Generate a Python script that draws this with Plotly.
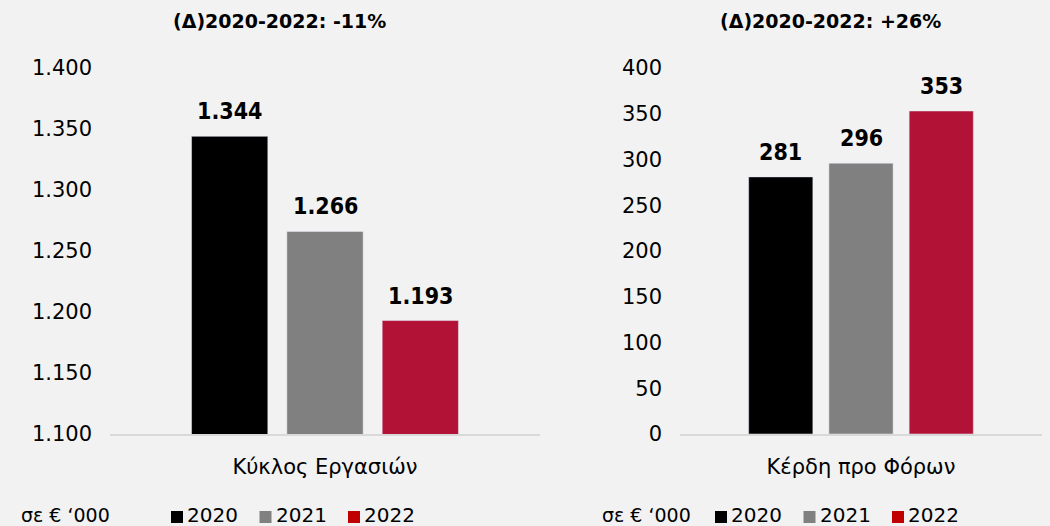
import plotly.graph_objects as go

# ---- data ----
years = ["2020", "2021", "2022"]
left_category = ["Κύκλος Εργασιών"]
left_values = [1344, 1266, 1193]
right_category = ["Κέρδη προ Φόρων"]
right_values = [281, 296, 353]
left_title = "(Δ)2020-2022: -11%"
right_title = "(Δ)2020-2022: +26%"
unit_label = "σε € ‘000"
left_ticks = [1100, 1150, 1200, 1250, 1300, 1350, 1400]
right_ticks = [0, 50, 100, 150, 200, 250, 300, 350, 400]

# ---- style ----
W, H = 1050, 526
MT, MB = 68, 92
BG = "#F2F2F2"
bar_colors = ["#000000", "#808080", "#B31237"]
legend_colors = ["#000000", "#808080", "#C00000"]
FONT = "DejaVu Sans"
BOLD_NUM = "DejaVu Sans Condensed, DejaVu Sans"
BARGAP = 0.335
GROUPGAP = 0.2
L_DOM = (110, 540)
R_DOM = (680, 1042)


def px_x(p):
    return p / W


def px_y(p):
    # paper y is relative to the plot area between the margins
    return (H - MB - p) / (H - MT - MB)


fig = go.Figure()
for i, y in enumerate(years):
    fig.add_trace(go.Bar(x=left_category, y=[left_values[i]], name=y,
                         marker_color=bar_colors[i], xaxis="x", yaxis="y",
                         showlegend=False, hoverinfo="skip"))
for i, y in enumerate(years):
    fig.add_trace(go.Bar(x=right_category, y=[right_values[i]], name=y,
                         marker_color=bar_colors[i], xaxis="x2", yaxis="y2",
                         showlegend=False, hoverinfo="skip"))

annotations = []
# value labels
for cat, vals, dom, xr, yr in [(left_category, left_values, L_DOM, "x", "y"),
                               (right_category, right_values, R_DOM, "x2", "y2")]:
    slot = (dom[1] - dom[0]) * (1 - BARGAP) / 3
    for i, v in enumerate(vals):
        annotations.append(dict(
            x=cat[0], y=v, xref=xr, yref=yr, xshift=(i - 1) * slot, yshift=25,
            text="<b>" + f"{v:,}".replace(",", ".") + "</b>", showarrow=False,
            yanchor="middle", xanchor="center",
            font=dict(family=BOLD_NUM, size=23, color="#000000")))

# titles
for t, cx in [(left_title, 279), (right_title, 830)]:
    annotations.append(dict(x=px_x(cx), y=px_y(21), xref="paper", yref="paper",
                            text="<b>" + t + "</b>", showarrow=False,
                            xanchor="center", yanchor="middle",
                            font=dict(family=FONT, size=19, color="#000000")))

# legends (unit label + coloured keys)
shapes = []
LEG_Y = 515
for unit_x, key_x in [(21, 171), (602, 715)]:
    annotations.append(dict(x=px_x(unit_x), y=px_y(LEG_Y), xref="paper", yref="paper",
                            text=unit_label, showarrow=False, xanchor="left",
                            yanchor="middle", xshift=-2,
                            font=dict(family=FONT, size=19, color="#000000")))
    for i, y in enumerate(years):
        kx = key_x + i * 88.5
        shapes.append(dict(type="rect", xref="paper", yref="paper",
                           x0=px_x(kx), x1=px_x(kx + 12),
                           y0=px_y(LEG_Y + 8), y1=px_y(LEG_Y - 4),
                           fillcolor=legend_colors[i], line=dict(width=0)))
        annotations.append(dict(x=px_x(kx + 16), y=px_y(LEG_Y), xref="paper", yref="paper",
                                text=y, showarrow=False, xanchor="left", yanchor="middle",
                                xshift=-2,
                                font=dict(family=FONT, size=20, color="#000000")))

axis_x = dict(showline=True, linecolor="#D9D9D9", linewidth=2, showgrid=False,
              ticks="", ticklabelstandoff=13, tickfont=dict(family=FONT, size=21, color="#000000"),
              fixedrange=True)
axis_y = dict(showline=False, showgrid=False, zeroline=False, ticks="",
              ticklabelstandoff=17, tickformat=",.0f",
              tickfont=dict(family=FONT, size=21, color="#000000"))

fig.update_layout(
    width=W, height=H,
    paper_bgcolor=BG, plot_bgcolor=BG,
    margin=dict(l=0, r=0, t=MT, b=MB),
    separators=",.",
    barmode="group", bargap=BARGAP, bargroupgap=GROUPGAP,
    xaxis=dict(axis_x, domain=[L_DOM[0] / W, L_DOM[1] / W], anchor="y"),
    xaxis2=dict(axis_x, domain=[R_DOM[0] / W, R_DOM[1] / W], anchor="y2"),
    yaxis=dict(axis_y, range=[1100, 1400], tickvals=left_ticks, anchor="x"),
    yaxis2=dict(axis_y, range=[0, 400], tickvals=right_ticks, anchor="x2"),
    annotations=annotations, shapes=shapes,
    showlegend=False,
)

fig.write_html("out.html", config={"displayModeBar": False},
               post_script="document.body.style.margin='0';")
